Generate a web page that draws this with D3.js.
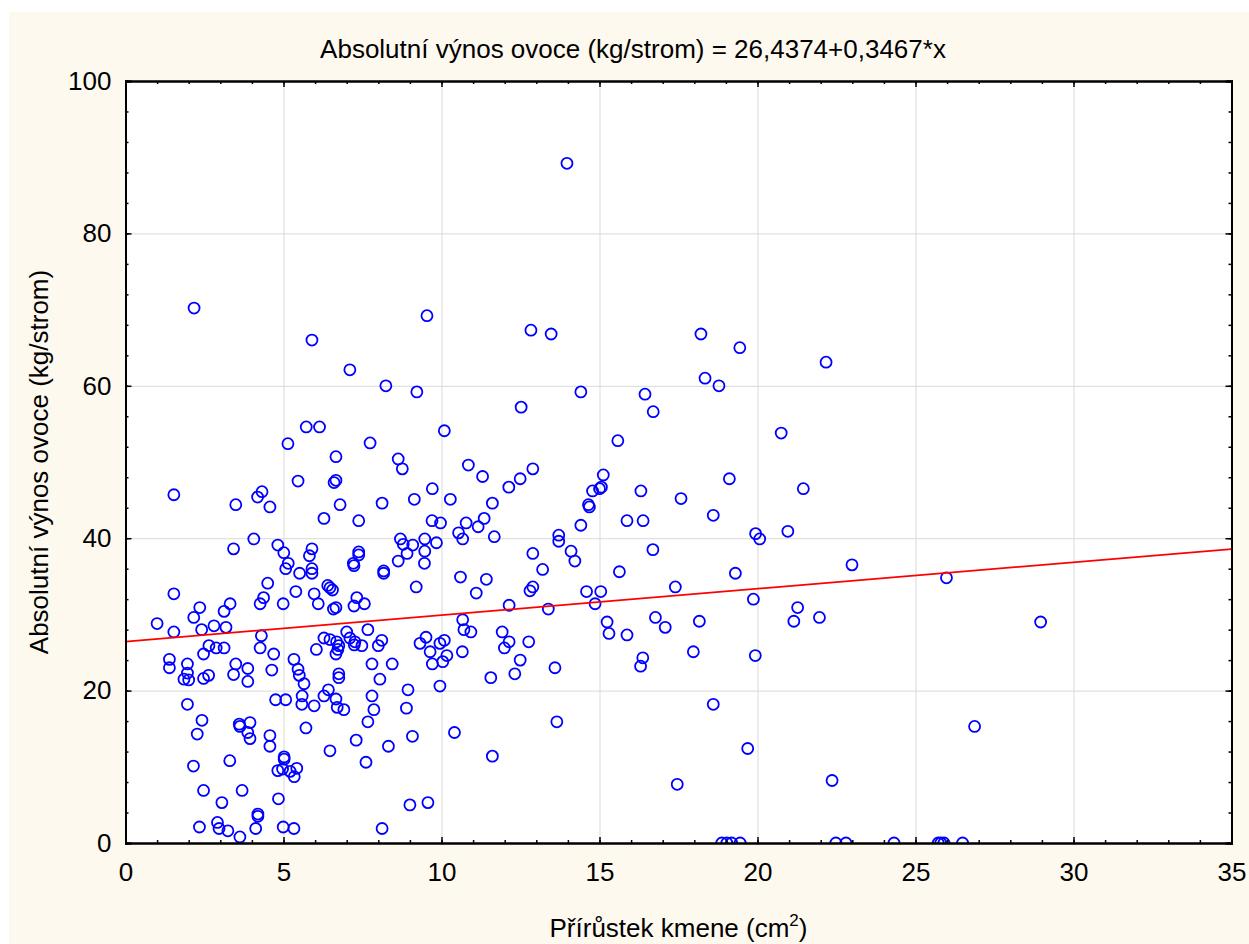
<!DOCTYPE html>
<html>
<head>
<meta charset="utf-8">
<script src="https://cdn.jsdelivr.net/npm/d3@7"></script>
<style>
  html, body { margin: 0; padding: 0; background: #ffffff; }
  svg { display: block; }
  text { font-family: "Liberation Sans", Arial, sans-serif; fill: #000; }
</style>
</head>
<body>
<svg id="chart" width="1249" height="944"></svg>
<script>
// ---- Data ----
const titleText = "Absolutní výnos ovoce (kg/strom) = 26,4374+0,3467*x";
const xLabelMain = "Přírůstek kmene (cm";
const xLabelSup = "2";
const xLabelEnd = ")";
const yLabel = "Absolutní výnos ovoce (kg/strom)";

const xTicks = [0, 5, 10, 15, 20, 25, 30, 35];
const yTicks = [0, 20, 40, 60, 80, 100];
const xDomain = [0, 35];
const yDomain = [0, 100];

const intercept = 26.4374;
const slope = 0.3467;

// Přírůstek kmene (cm2)
const xValues = [
  13.97, 2.17, 12.83, 13.47, 18.21, 19.44, 22.17, 18.34, 18.78, 14.41, 16.44, 12.52, 16.70, 5.90, 7.10, 8.24, 9.22, 9.54,
  1.53, 3.49, 3.42, 4.06, 4.18, 4.32, 4.57, 4.82, 5.01, 5.14, 5.15, 5.07, 5.46, 5.51, 5.72, 6.14, 5.82, 5.90, 5.90, 5.90,
  6.28, 6.66, 6.60, 6.66, 6.79, 7.38, 7.38, 7.38, 7.21, 7.23, 4.50,
  1.53, 2.35, 2.16, 1.00, 1.53, 2.41, 2.80, 3.18, 3.12, 3.31, 4.26, 4.37, 4.99, 5.39, 5.97, 6.10, 6.40, 6.47, 6.55, 6.58, 6.66, 7.23, 7.32,
  4.30, 2.64, 2.47, 2.87, 3.12, 1.39, 1.39, 1.96, 1.96, 1.85, 2.00, 2.47, 2.63, 3.49, 3.42, 3.87, 3.87, 4.26, 4.69, 4.63, 5.33, 5.46, 5.50, 5.65,
  6.04, 6.28, 6.47, 6.68, 6.72, 6.66, 6.75, 7.00, 7.10, 7.26, 6.75, 6.75,
  1.96, 2.42, 2.27, 3.60, 3.62, 3.94, 3.87, 3.94, 4.75, 5.07, 5.59, 5.58, 5.97, 6.28, 6.42, 6.66, 6.70, 6.91, 4.57, 4.57, 5.71, 6.47, 7.30,
  2.15, 3.30, 5.02, 5.02, 4.82, 4.97, 5.21, 5.34, 5.42, 2.47, 3.69, 4.84, 3.05,
  2.34, 2.91, 2.96, 3.24, 3.62, 4.19, 4.19, 4.12, 4.99, 5.33,
  10.09, 7.74, 8.63, 8.76, 10.85, 11.30, 12.89, 12.49, 12.13, 9.71, 9.14, 10.28, 8.12, 11.61, 11.35, 11.16, 10.78, 10.54, 10.67, 11.67, 9.70, 9.97,
  8.70, 8.79, 9.09, 8.91, 9.47, 9.47, 9.84, 9.46, 8.63, 8.17, 8.17, 10.60, 9.20, 11.42, 11.10, 12.89, 13.20, 13.71, 13.71, 14.10, 14.22, 14.41,
  14.65, 14.68, 14.78, 15.00, 15.06, 15.12, 15.58, 15.63, 14.59, 15.04, 12.89, 12.80,
  12.14, 13.38, 14.86, 7.56, 15.24, 15.30, 10.67, 10.71, 10.93, 11.92, 12.14, 11.99, 12.76, 12.49, 12.32, 11.56, 13.59, 10.66,
  9.51, 9.32, 9.95, 10.09, 9.64, 10.17, 10.04, 9.71, 9.95, 7.24,
  7.67, 8.11, 8.00, 7.48, 7.80, 8.44, 8.05, 8.94, 7.80, 8.89, 7.86, 7.67, 9.08, 10.41, 13.65, 8.32, 7.61, 11.61, 9.00, 9.57, 8.12,
  20.75, 16.31, 17.58, 19.11, 21.45, 18.60, 15.87, 16.38, 19.94, 20.07, 20.96, 16.69, 22.99, 19.30, 17.40, 19.87, 21.27, 21.15, 21.96,
  16.77, 17.08, 18.16, 15.87,
  16.37, 16.30, 17.97, 19.93, 18.60, 19.69, 17.46, 22.36, 26.87,
  25.98, 28.96,
  18.87, 19.03, 19.18, 19.45, 22.48, 22.80, 24.32, 25.72, 25.80, 25.90, 26.49
];
// Absolutní výnos ovoce (kg/strom)
const yValues = [
  89.2, 70.2, 67.3, 66.8, 66.8, 65.0, 63.1, 61.0, 60.0, 59.2, 58.9, 57.2, 56.6, 66.0, 62.1, 60.0, 59.2, 69.2,
  45.7, 44.4, 38.6, 39.9, 45.4, 46.1, 44.1, 39.1, 38.1, 52.4, 36.7, 36.0, 47.5, 35.4, 54.6, 54.6, 37.7, 38.6, 36.0, 35.4,
  42.6, 50.7, 47.3, 47.6, 44.4, 42.3, 38.2, 37.8, 36.7, 36.4, 34.1,
  32.7, 30.9, 29.6, 28.8, 27.7, 28.0, 28.5, 28.3, 30.4, 31.4, 31.4, 32.2, 31.4, 33.0, 32.7, 31.4, 33.8, 33.5, 33.2, 30.7, 30.9, 31.1, 32.2,
  27.2, 25.9, 24.8, 25.6, 25.6, 24.1, 23.0, 23.5, 22.3, 21.5, 21.4, 21.6, 22.0, 23.5, 22.1, 22.9, 21.2, 25.6, 24.8, 22.7, 24.1, 22.8, 22.0, 20.9,
  25.4, 26.9, 26.7, 26.4, 25.4, 24.8, 25.9, 27.7, 26.9, 26.4, 22.2, 21.7,
  18.2, 16.1, 14.3, 15.6, 15.3, 15.8, 14.5, 13.7, 18.8, 18.8, 19.3, 18.2, 18.0, 19.3, 20.1, 18.9, 17.8, 17.5, 14.1, 12.7, 15.1, 12.1, 13.5,
  10.1, 10.8, 11.3, 11.0, 9.5, 9.7, 9.4, 8.7, 9.8, 6.9, 6.9, 5.8, 5.3,
  2.1, 2.7, 1.9, 1.6, 0.8, 3.8, 3.5, 1.9, 2.1, 1.9,
  54.1, 52.5, 50.4, 49.1, 49.6, 48.1, 49.1, 47.8, 46.7, 46.5, 45.1, 45.1, 44.6, 44.6, 42.6, 41.5, 42.0, 40.7, 39.9, 40.2, 42.3, 42.0,
  39.9, 39.2, 39.1, 38.0, 39.9, 38.3, 39.4, 36.7, 37.0, 35.7, 35.4, 34.9, 33.6, 34.6, 32.8, 38.0, 35.9, 40.4, 39.6, 38.3, 37.0, 41.7,
  44.4, 44.1, 46.2, 46.5, 46.7, 48.3, 52.8, 35.6, 33.0, 33.0, 33.6, 33.1,
  31.2, 30.7, 31.4, 31.4, 29.0, 27.5, 29.3, 28.0, 27.7, 27.7, 26.4, 25.6, 26.4, 24.0, 22.2, 21.7, 23.0, 25.1,
  27.0, 26.2, 26.2, 26.6, 25.1, 24.6, 23.8, 23.5, 20.6, 26.0,
  28.0, 26.6, 25.9, 25.9, 23.5, 23.5, 21.5, 20.1, 19.3, 17.7, 17.5, 15.9, 14.0, 14.5, 15.9, 12.7, 10.6, 11.4, 5.0, 5.3, 1.9,
  53.8, 46.2, 45.2, 47.8, 46.5, 43.0, 42.3, 42.3, 40.6, 39.9, 40.9, 38.5, 36.5, 35.4, 33.6, 32.0, 30.9, 29.1, 29.6,
  29.6, 28.3, 29.1, 27.3,
  24.3, 23.2, 25.1, 24.6, 18.2, 12.4, 7.7, 8.2, 15.3,
  34.8, 29.0,
  0, 0, 0, 0, 0, 0, 0, 0, 0, 0, 0
];

// ---- Layout ----
const W = 1249, H = 944;
const plotL = 125.5, plotR = 1231.5, plotT = 81, plotB = 843;
const FS = 26;

const svg = d3.select("#chart");

// beige background with thin white margin top/left
svg.append("rect").attr("x", 0).attr("y", 0).attr("width", W).attr("height", H).attr("fill", "#ffffff");
svg.append("rect").attr("x", 9).attr("y", 12).attr("width", W - 9).attr("height", H - 12).attr("fill", "#fef9ef");
svg.append("rect").attr("x", plotL).attr("y", plotT).attr("width", plotR - plotL).attr("height", plotB - plotT).attr("fill", "#ffffff");

const x = d3.scaleLinear().domain(xDomain).range([plotL, plotR]);
const y = d3.scaleLinear().domain(yDomain).range([plotB, plotT]);

// grid
const gridX = svg.append("g").attr("transform", `translate(0,${plotB})`)
  .call(d3.axisBottom(x).tickValues(xTicks.filter(v => v > xDomain[0] && v < xDomain[1])).tickSize(-(plotB - plotT)).tickFormat(""));
gridX.select(".domain").remove();
gridX.selectAll("line").attr("stroke", "#d9d9d9").attr("stroke-width", 1);
const gridY = svg.append("g").attr("transform", `translate(${plotL},0)`)
  .call(d3.axisLeft(y).tickValues(yTicks.filter(v => v > yDomain[0] && v < yDomain[1])).tickSize(-(plotR - plotL)).tickFormat(""));
gridY.select(".domain").remove();
gridY.selectAll("line").attr("stroke", "#d9d9d9").attr("stroke-width", 1);

// points
const pts = xValues.map((v, i) => ({ x: v, y: yValues[i] }));
const clipId = "plotclip";
svg.append("clipPath").attr("id", clipId).append("rect")
  .attr("x", plotL).attr("y", plotT - 10).attr("width", plotR - plotL).attr("height", plotB - plotT + 10);
svg.append("g").attr("clip-path", `url(#${clipId})`)
  .selectAll("circle").data(pts).join("circle")
  .attr("cx", d => x(d.x)).attr("cy", d => y(d.y)).attr("r", 5.5)
  .attr("fill", "none").attr("stroke", "#0000ff").attr("stroke-width", 1.8);

// regression line
const line = d3.line().x(d => x(d)).y(d => y(intercept + slope * d));
svg.append("path").datum(xDomain).attr("d", line)
  .attr("fill", "none").attr("stroke", "#ff0000").attr("stroke-width", 1.7);

// axes (ticks inward on all four sides)
function styleAxis(g) {
  g.select(".domain").attr("stroke", "#000").attr("stroke-width", 2);
  g.selectAll(".tick line").attr("stroke", "#000").attr("stroke-width", 1.5);
  g.selectAll("text").style("font-family", "'Liberation Sans', Arial, sans-serif").style("font-size", FS + "px").attr("fill", "#000");
}
const xMinor = d3.range(xDomain[0], xDomain[1] + 0.001, 1);
const yMinor = d3.range(yDomain[0], yDomain[1] + 0.001, 4);

// bottom
svg.append("g").attr("transform", `translate(0,${plotB})`)
  .call(d3.axisBottom(x).tickValues(xMinor).tickSize(-3).tickFormat("")).call(styleAxis);
svg.append("g").attr("transform", `translate(0,${plotB})`)
  .call(d3.axisBottom(x).tickValues(xTicks).tickSize(-6).tickPadding(20).tickFormat(d3.format("d"))).call(styleAxis);
// top
svg.append("g").attr("transform", `translate(0,${plotT})`)
  .call(d3.axisTop(x).tickValues(xMinor).tickSize(-3).tickFormat("")).call(styleAxis);
svg.append("g").attr("transform", `translate(0,${plotT})`)
  .call(d3.axisTop(x).tickValues(xTicks).tickSize(-6).tickFormat("")).call(styleAxis);
// left
svg.append("g").attr("transform", `translate(${plotL},0)`)
  .call(d3.axisLeft(y).tickValues(yMinor).tickSize(-3).tickFormat("")).call(styleAxis);
svg.append("g").attr("transform", `translate(${plotL},0)`)
  .call(d3.axisLeft(y).tickValues(yTicks).tickSize(-6).tickPadding(14).tickFormat(d3.format("d"))).call(styleAxis);
// right
svg.append("g").attr("transform", `translate(${plotR},0)`)
  .call(d3.axisRight(y).tickValues(yMinor).tickSize(-3).tickFormat("")).call(styleAxis);
svg.append("g").attr("transform", `translate(${plotR},0)`)
  .call(d3.axisRight(y).tickValues(yTicks).tickSize(-6).tickFormat("")).call(styleAxis);

// title
svg.append("text").attr("x", 633).attr("y", 58).attr("text-anchor", "middle")
  .style("font-size", FS + "px").text(titleText);

// x label with superscript
const xl = svg.append("text").attr("x", (plotL + plotR) / 2).attr("y", 937).attr("text-anchor", "middle")
  .style("font-size", FS + "px");
xl.append("tspan").text(xLabelMain);
xl.append("tspan").attr("dy", -11).style("font-size", "17px").text(xLabelSup);
xl.append("tspan").attr("dy", 11).text(xLabelEnd);

// y label
svg.append("text").attr("transform", `translate(48,${(plotT + plotB) / 2}) rotate(-90)`)
  .attr("text-anchor", "middle").style("font-size", FS + "px").text(yLabel);
</script>
</body>
</html>
